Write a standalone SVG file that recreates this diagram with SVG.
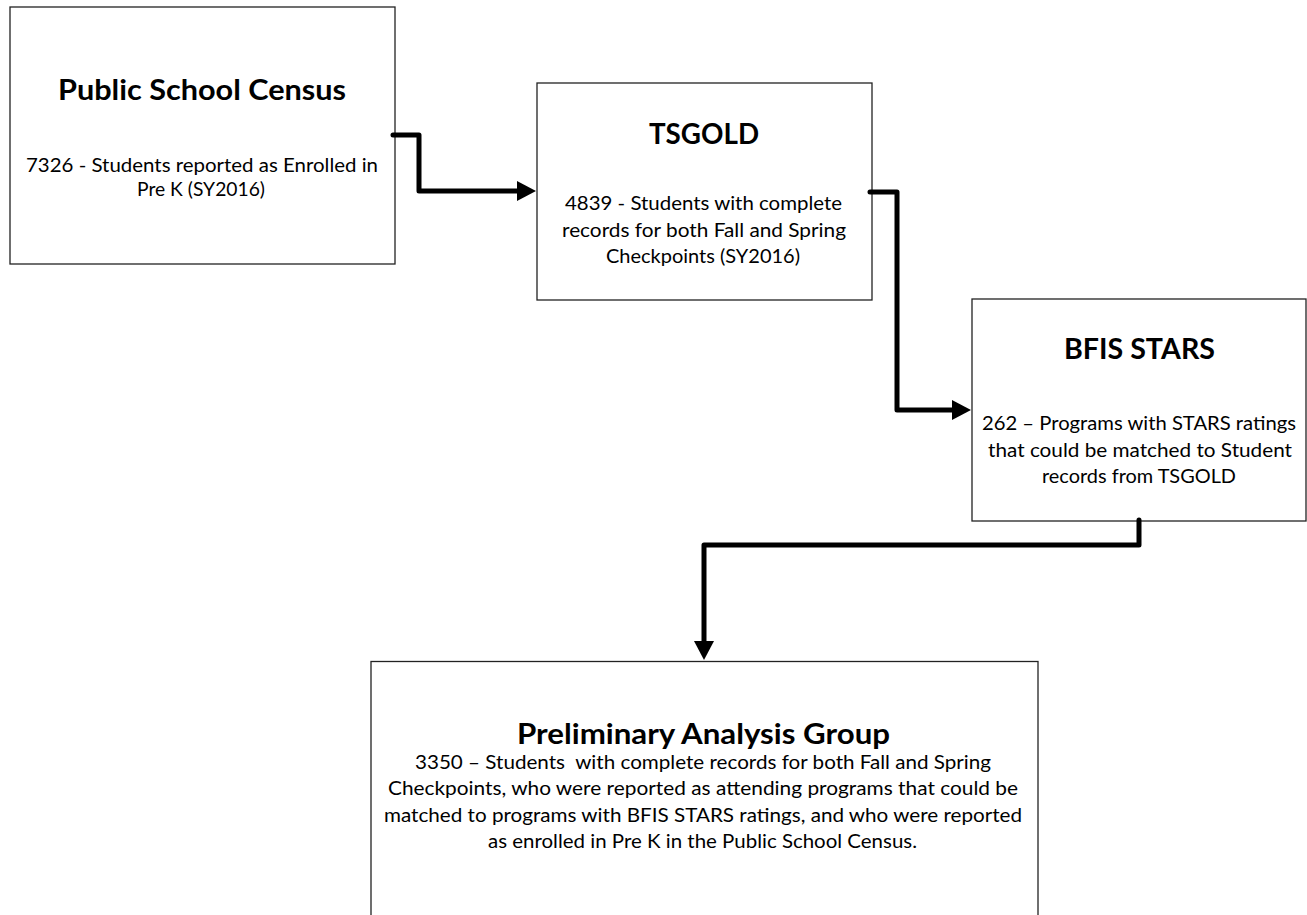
<svg xmlns="http://www.w3.org/2000/svg" width="1307" height="915" viewBox="0 0 1307 915">
<style>
.box{fill:#ffffff;stroke:#222222;stroke-width:1.3}
.title{font-family:Lato,"Liberation Sans",sans-serif;font-weight:bold;font-size:29px;fill:#000;text-anchor:middle}
.body{font-family:Lato,"Liberation Sans",sans-serif;font-size:18.5px;fill:#000;text-anchor:middle}
.conn{fill:none;stroke:#000;stroke-width:5;stroke-linejoin:round;stroke-linecap:round}
</style>
<defs>
<marker id="arrow" markerUnits="userSpaceOnUse" viewBox="0 0 19 20" refX="0" refY="10" markerWidth="19" markerHeight="20" orient="auto">
<path d="M0,0 L19,10 L0,20 z" fill="#000"/>
</marker>
</defs>
<rect x="0" y="0" width="1307" height="915" fill="#ffffff"/>
<g id="node-census">
<rect class="box" x="10" y="7" width="385" height="257"/>
<text class="title" x="202" y="100" textLength="288" lengthAdjust="spacingAndGlyphs">Public School Census</text>
<text class="body" x="202" y="172" textLength="352" lengthAdjust="spacingAndGlyphs">7326 - Students reported as Enrolled in</text>
<text class="body" x="201" y="196" textLength="128" lengthAdjust="spacingAndGlyphs">Pre K (SY2016)</text>
</g>
<g id="node-tsgold">
<rect class="box" x="537" y="83" width="335" height="217"/>
<text class="title" x="704" y="144" textLength="110" lengthAdjust="spacingAndGlyphs">TSGOLD</text>
<text class="body" x="703.5" y="210" textLength="277" lengthAdjust="spacingAndGlyphs">4839 - Students with complete</text>
<text class="body" x="704" y="237" textLength="284" lengthAdjust="spacingAndGlyphs">records for both Fall and Spring</text>
<text class="body" x="703" y="263" textLength="194" lengthAdjust="spacingAndGlyphs">Checkpoints (SY2016)</text>
</g>
<g id="node-bfis">
<rect class="box" x="972" y="299" width="334" height="222"/>
<text class="title" x="1139.5" y="359" textLength="151" lengthAdjust="spacingAndGlyphs">BFIS STARS</text>
<text class="body" x="1139" y="430" textLength="314" lengthAdjust="spacingAndGlyphs">262 – Programs with STARS ratings</text>
<text class="body" x="1140" y="456.5" textLength="304" lengthAdjust="spacingAndGlyphs">that could be matched to Student</text>
<text class="body" x="1139" y="483" textLength="194" lengthAdjust="spacingAndGlyphs">records from TSGOLD</text>
</g>
<g id="node-prelim">
<rect class="box" x="371" y="661.5" width="667" height="260"/>
<text class="title" x="703.5" y="744" textLength="373" lengthAdjust="spacingAndGlyphs">Preliminary Analysis Group</text>
<text class="body" x="703" y="768.5" textLength="576" lengthAdjust="spacingAndGlyphs" xml:space="preserve">3350 – Students  with complete records for both Fall and Spring</text>
<text class="body" x="703" y="795" textLength="630" lengthAdjust="spacingAndGlyphs">Checkpoints, who were reported as attending programs that could be</text>
<text class="body" x="703" y="821.5" textLength="638" lengthAdjust="spacingAndGlyphs">matched to programs with BFIS STARS ratings, and who were reported</text>
<text class="body" x="702.5" y="848" textLength="429" lengthAdjust="spacingAndGlyphs">as enrolled in Pre K in the Public School Census.</text>
</g>
<g id="connectors">
<path class="conn" d="M393,135 H419 V191 H517" marker-end="url(#arrow)"/>
<path class="conn" d="M870,192 H897 V410 H952" marker-end="url(#arrow)"/>
<path class="conn" d="M1139,520 V545 H704 V641" marker-end="url(#arrow)"/>
</g>
</svg>
